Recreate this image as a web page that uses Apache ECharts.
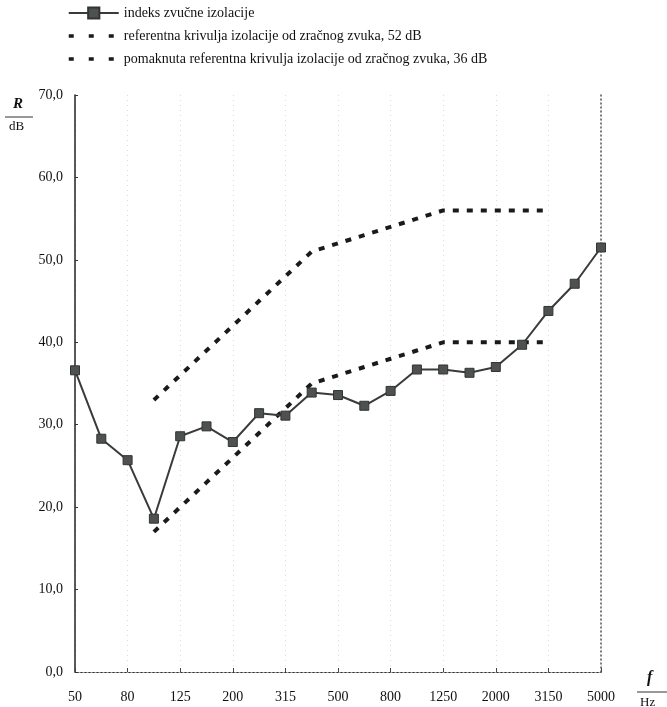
<!DOCTYPE html>
<html>
<head>
<meta charset="utf-8">
<script src="https://cdn.jsdelivr.net/npm/echarts@6/dist/echarts.min.js"></script>
<style>html,body{margin:0;padding:0;background:#fff}#c{width:667px;height:707px}</style>
</head>
<body>
<div id="c"></div>
<script>
var frequencies = ['50','63','80','100','125','160','200','250','315','400','500','630','800','1000','1250','1600','2000','2500','3150','4000','5000'];
var soundInsulation = [36.6,28.3,25.7,18.6,28.6,29.8,27.9,31.4,31.1,33.9,33.6,32.3,34.1,36.7,36.7,36.3,37.0,39.7,43.8,47.1,51.5];
var referenceCurve52 = [null,null,null,33,36,39,42,45,48,51,52,53,54,55,56,56,56,56,56,null,null];
var shiftedCurve36 = [null,null,null,17,20,23,26,29,32,35,36,37,38,39,40,40,40,40,40,null,null];
var seriesNames = ['indeks zvučne izolacije','referentna krivulja izolacije od zračnog zvuka, 52 dB','pomaknuta referentna krivulja izolacije od zračnog zvuka, 36 dB'];

var SERIF = '"Liberation Serif","DejaVu Serif",serif';
var chart = echarts.init(document.getElementById('c'));
chart.setOption({
  animation: false,
  backgroundColor: '#fff',
  legend: {
    orient: 'vertical', left: 62, top: 1, itemGap: 9, itemWidth: 50, itemHeight: 14,
    textStyle: {fontFamily: SERIF, fontSize: 14, color: '#111'},
    data: [
      {name: seriesNames[0]},
      {name: seriesNames[1], itemStyle: {opacity: 0}, lineStyle: {width: 3.5, type: [5, 15]}},
      {name: seriesNames[2], itemStyle: {opacity: 0}, lineStyle: {width: 3.5, type: [5, 15]}}
    ]
  },
  grid: {left: 75, right: 66, top: 95, bottom: 35, containLabel: false},
  xAxis: [{
    type: 'category', data: frequencies, boundaryGap: false,
    axisLine: {lineStyle: {color: '#333', width: 1.2}},
    axisTick: {show: true, inside: true, length: 4, lineStyle: {color: '#444'}},
    axisLabel: {interval: 1, fontFamily: SERIF, fontSize: 14, color: '#111', margin: 18},
    splitLine: {show: true, lineStyle: {color: '#dcdcdc', type: [1, 4]}}
  }, {
    type: 'category', data: frequencies, boundaryGap: false, position: 'top',
    axisLine: {lineStyle: {color: '#aaa', type: [1, 3]}},
    axisTick: {show: false}, axisLabel: {show: false}
  }],
  yAxis: [{
    type: 'value', min: 0, max: 70, interval: 10,
    axisLine: {show: true, lineStyle: {color: '#222', width: 1.5}},
    axisTick: {show: true, inside: true, length: 3, lineStyle: {color: '#333'}},
    axisLabel: {fontFamily: SERIF, fontSize: 14, color: '#111', margin: 12,
      formatter: function (v) { return v.toFixed(1).replace('.', ','); }},
    splitLine: {show: false}
  }, {
    type: 'value', min: 0, max: 70, interval: 10, position: 'right',
    axisLine: {show: true, lineStyle: {color: '#555', type: [1, 3], width: 1.5}},
    axisTick: {show: false}, axisLabel: {show: false}, splitLine: {show: false}
  }],
  graphic: [
    {type: 'text', left: 13, top: 97, style: {text: 'R', font: 'italic bold 15px ' + SERIF, fill: '#111'}},
    {type: 'line', shape: {x1: 5, y1: 117, x2: 33, y2: 117}, style: {stroke: '#333', lineWidth: 1}},
    {type: 'text', left: 9, top: 120, style: {text: 'dB', font: '13px ' + SERIF, fill: '#111'}},
    {type: 'text', left: 647, top: 670, style: {text: 'f', font: 'italic bold 16px ' + SERIF, fill: '#111'}},
    {type: 'line', shape: {x1: 637, y1: 692, x2: 667, y2: 692}, style: {stroke: '#333', lineWidth: 1}},
    {type: 'text', left: 640, top: 696, style: {text: 'Hz', font: '13px ' + SERIF, fill: '#111'}}
  ],
  series: [{
    name: seriesNames[0], type: 'line', data: soundInsulation,
    symbol: 'rect', symbolSize: 9,
    itemStyle: {color: '#4d524f', borderColor: '#333', borderWidth: 1},
    lineStyle: {color: '#3a3a3a', width: 2}, z: 5
  }, {
    name: seriesNames[1], type: 'line', data: referenceCurve52, symbol: 'none',
    itemStyle: {color: '#1a1a1a'},
    lineStyle: {color: '#1a1a1a', width: 4, type: [6, 8]}
  }, {
    name: seriesNames[2], type: 'line', data: shiftedCurve36, symbol: 'none',
    itemStyle: {color: '#1a1a1a'},
    lineStyle: {color: '#1a1a1a', width: 4, type: [6, 8]}
  }]
});
</script>
</body>
</html>
